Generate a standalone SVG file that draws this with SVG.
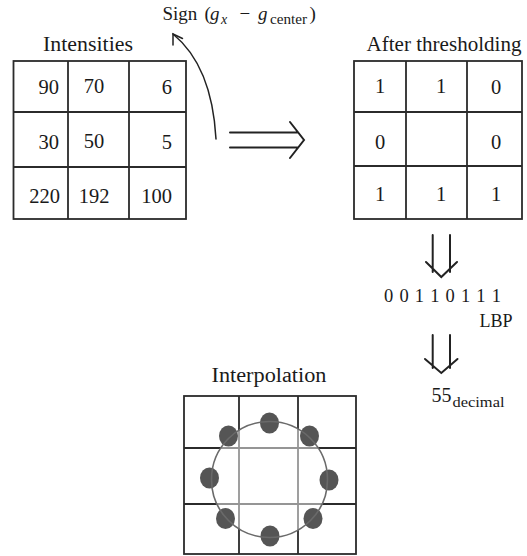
<svg xmlns="http://www.w3.org/2000/svg" width="527" height="556" viewBox="0 0 527 556">
  <style>
    text { font-family: "Liberation Serif", "Times New Roman", serif; fill: #1a1a1a; }
    .lbl { font-size: 20px; }
    .num { font-size: 20.5px; }
    .grid { fill: none; stroke: #2b2b2b; stroke-width: 1.8; }
    .arw { fill: none; stroke: #222; stroke-width: 2; stroke-linecap: round; stroke-linejoin: miter; }
    .thin { fill: none; stroke: #222; stroke-width: 1.5; stroke-linecap: round; }
    .dot { fill: #555555; }
  </style>
  <rect width="527" height="556" fill="#ffffff"/>

  <!-- 3x3 grid of raw intensities -->
  <g id="intensities">
    <text class="lbl" x="88" y="50.5" text-anchor="middle" textLength="90" lengthAdjust="spacingAndGlyphs">Intensities</text>
    <rect class="grid" x="13.5" y="61" width="172.5" height="158"/>
    <path class="grid" d="M68,61V219 M129,61V219 M13.5,112H186 M13.5,167H186"/>
    <g class="num">
      <text x="59" y="94" text-anchor="end">90</text>
      <text x="94" y="93" text-anchor="middle">70</text>
      <text x="172" y="94" text-anchor="end">6</text>
      <text x="59" y="149" text-anchor="end">30</text>
      <text x="94" y="148" text-anchor="middle">50</text>
      <text x="172" y="149" text-anchor="end">5</text>
      <text x="60" y="202.5" text-anchor="end">220</text>
      <text x="94" y="202.5" text-anchor="middle">192</text>
      <text x="172" y="202.5" text-anchor="end">100</text>
    </g>
  </g>

  <!-- sign function label -->
  <g id="sign-label" font-size="19">
    <text x="162.5" y="20">Sign</text>
    <text x="204.5" y="20">(</text>
    <text x="210" y="20" font-style="italic">g</text>
    <text x="221" y="24" font-size="14" font-style="italic">x</text>
    <text x="239.5" y="20">−</text>
    <text x="258" y="20" font-style="italic">g</text>
    <text x="270" y="24" font-size="14" textLength="37" lengthAdjust="spacingAndGlyphs">center</text>
    <text x="309.5" y="20">)</text>
  </g>

  <!-- 3x3 grid of binary values -->
  <g id="thresholded">
    <text class="lbl" x="444" y="50.5" text-anchor="middle" textLength="155" lengthAdjust="spacingAndGlyphs">After thresholding</text>
    <rect class="grid" x="354" y="61" width="168" height="158"/>
    <path class="grid" d="M406,61V219 M467,61V219 M354,112H522 M354,166H522"/>
    <g class="num" text-anchor="middle">
      <text x="380" y="93">1</text>
      <text x="441" y="93">1</text>
      <text x="496" y="94">0</text>
      <text x="380" y="149">0</text>
      <text x="496" y="149">0</text>
      <text x="380" y="201">1</text>
      <text x="441" y="201">1</text>
      <text x="496" y="201">1</text>
    </g>
  </g>

  <!-- binary code and result -->
  <g id="lbp-code">
    <text x="384" y="302" font-size="18.5" textLength="117" lengthAdjust="spacing">0 0 1 1 0 1 1 1</text>
    <text x="479.5" y="326.5" font-size="18">LBP</text>
  </g>
  <g id="decimal-value">
    <text x="431.5" y="401.5" font-size="20">55</text>
    <text x="452.5" y="407" font-size="15" textLength="52" lengthAdjust="spacingAndGlyphs">decimal</text>
  </g>

  <!-- circular neighbourhood sampled over the pixel grid -->
  <g id="interpolation">
    <text class="lbl" x="269" y="382" text-anchor="middle" textLength="115" lengthAdjust="spacingAndGlyphs">Interpolation</text>
    <rect class="grid" x="184" y="396" width="172" height="158"/>
    <path class="grid" d="M239,396V554 M298,396V554 M184,448H356 M184,504H356"/>
    <circle cx="269.5" cy="479.5" r="58" fill="#ffffff" fill-opacity="0.5"/>
    <g class="dot">
      <ellipse cx="269.5" cy="423" rx="9.5" ry="10.5"/>
      <ellipse cx="309.5" cy="436" rx="9.5" ry="10.5"/>
      <ellipse cx="329" cy="480" rx="9.5" ry="10.5"/>
      <ellipse cx="313" cy="518.5" rx="9.5" ry="10.5"/>
      <ellipse cx="270" cy="536" rx="9.5" ry="10.5"/>
      <ellipse cx="225.5" cy="518.5" rx="9.5" ry="10.5"/>
      <ellipse cx="209.5" cy="478" rx="9.5" ry="10.5"/>
      <ellipse cx="228.5" cy="436" rx="9.5" ry="10.5"/>
    </g>
    <circle cx="269.5" cy="479.5" r="58" fill="none" stroke="#6a6a6a" stroke-width="1.6"/>
  </g>

  <!-- arrows -->
  <g id="connectors">
    <path class="thin" d="M216,139 Q212,66 173,34"/>
    <path class="thin" d="M173,45 L173,34 L182.5,38.5"/>
    <path class="arw" d="M230,132.5H298 M230,147.5H298 M290,122 L304,140 L290,158"/>
    <path class="arw" d="M432.7,235V272 M450,235V272 M426,262 L441.3,277 L457,262"/>
    <path class="arw" d="M432.7,335V368 M450,335V368 M425,359 L441.3,373 L457.5,359"/>
  </g>
</svg>
